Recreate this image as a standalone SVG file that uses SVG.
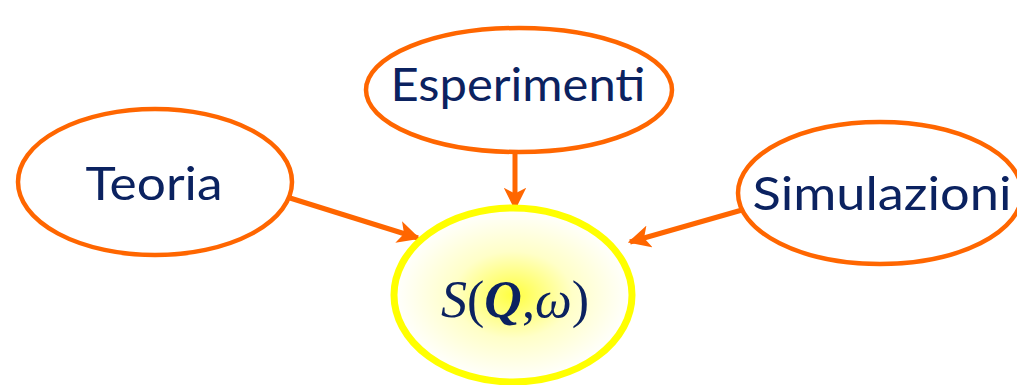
<svg xmlns="http://www.w3.org/2000/svg" width="1017" height="385" viewBox="0 0 1017 385">
<defs>
<style>
.src{fill:#fff;stroke:#FF6600;stroke-width:4.5}
.lbl{font-family:Lato,"Open Sans",sans-serif;font-size:46px;font-weight:400;fill:#0B2260;text-anchor:middle}
.arr{stroke:#FF6600;stroke-width:5;fill:none;marker-end:url(#ah)}
</style>
<marker id="ah" viewBox="0 0 10 10" refX="9" refY="5" markerWidth="4.5" markerHeight="4.5" orient="auto" markerUnits="strokeWidth">
<path d="M0,0 L10,5 L0,10 L2.5,5 z" fill="#FF6600"/>
</marker>
<radialGradient id="yg" cx="0.5" cy="0.5" r="0.5">
<stop offset="0" stop-color="#FFFF40"/>
<stop offset="0.5" stop-color="#FFFFC8"/>
<stop offset="1" stop-color="#FFFFFF"/>
</radialGradient>
</defs>
<rect width="1017" height="385" fill="#fff"/>
<g id="connectors">
<line class="arr" x1="290" y1="198" x2="418" y2="238"/>
<line class="arr" x1="515" y1="150" x2="515" y2="208"/>
<line class="arr" x1="742" y1="210" x2="630" y2="242"/>
</g>
<g id="teoria">
<ellipse class="src" cx="155" cy="182" rx="137" ry="73"/>
<text class="lbl" x="154" y="200" textLength="137" lengthAdjust="spacingAndGlyphs">Teoria</text>
</g>
<g id="esperimenti">
<ellipse class="src" cx="519" cy="90" rx="153" ry="62"/>
<text class="lbl" x="518" y="101" textLength="255" lengthAdjust="spacingAndGlyphs">Esperimenti</text>
</g>
<g id="simulazioni">
<ellipse class="src" cx="880" cy="193" rx="142" ry="71"/>
<text class="lbl" x="882" y="210" textLength="259" lengthAdjust="spacingAndGlyphs">Simulazioni</text>
</g>
<g id="sqw">
<ellipse cx="513" cy="295" rx="119" ry="87" fill="url(#yg)" stroke="#FFFF00" stroke-width="7"/>
<text x="515" y="317" text-anchor="middle" font-family="Liberation Serif,serif" font-size="52" fill="#0B2260"><tspan font-style="italic">S</tspan>(<tspan font-weight="bold" font-style="italic">Q</tspan>,<tspan font-style="italic">ω</tspan>)</text>
</g>
</svg>
